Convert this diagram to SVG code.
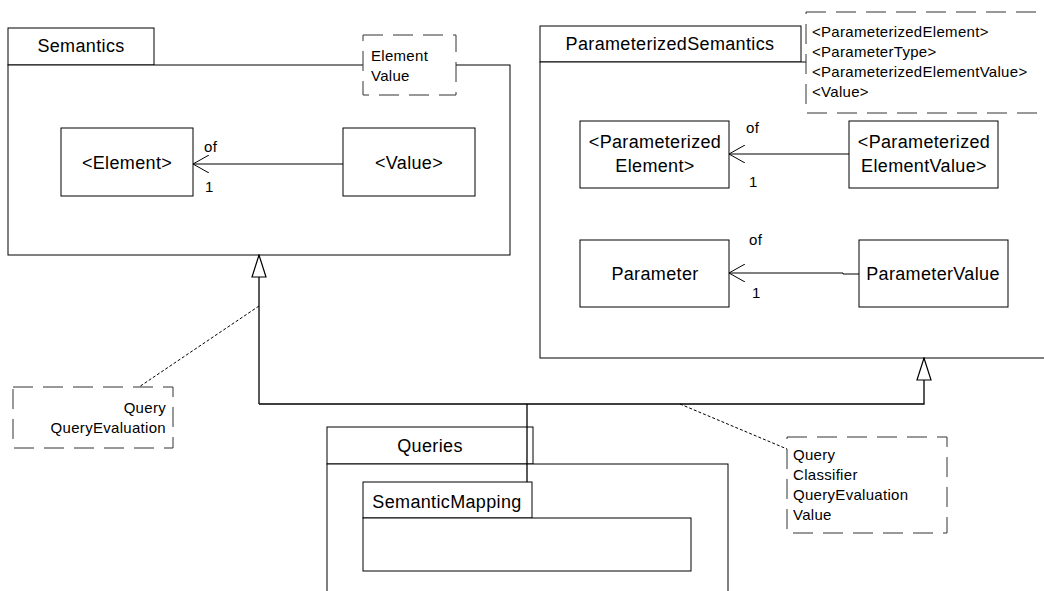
<svg xmlns="http://www.w3.org/2000/svg" width="1044" height="591" viewBox="0 0 1044 591">
<style>
.box{fill:#fff;stroke:#000;stroke-width:1}
.note{fill:#fff;stroke:#333;stroke-width:1;stroke-dasharray:20 10}
.t{font-family:"Liberation Sans",Arial,sans-serif;font-size:18px;letter-spacing:0.35px;fill:#000}
.n{font-family:"Liberation Sans",Arial,sans-serif;font-size:15px;letter-spacing:0.3px;fill:#000}
.c{text-anchor:middle}
.e{text-anchor:end}
.line{fill:none;stroke:#000;stroke-width:1}
.gen{fill:none;stroke:#000;stroke-width:1.3}
.dot{fill:none;stroke:#000;stroke-width:1;stroke-dasharray:3 2}
</style>
<defs>
<marker id="open" markerUnits="userSpaceOnUse" viewBox="0 0 17 18" refX="16" refY="9" markerWidth="17" markerHeight="18" orient="auto">
<path d="M0,0 L16,9 L0,18" fill="none" stroke="#000" stroke-width="1"/>
</marker>
<marker id="tri" markerUnits="userSpaceOnUse" viewBox="-1 -1 24 16" refX="22" refY="7" markerWidth="24" markerHeight="16" orient="auto">
<path d="M0,0 L22,7 L0,14 Z" fill="#fff" stroke="#000" stroke-width="1.2"/>
</marker>
</defs>
<rect width="1044" height="591" fill="#fff"/>

<g id="Semantics">
<rect class="box" x="8" y="28" width="146" height="37"/>
<rect class="box" x="8" y="65" width="502" height="190"/>
<text class="t c" x="81" y="52">Semantics</text>
</g>

<g id="ParameterizedSemantics">
<rect class="box" x="540" y="26" width="261" height="36"/>
<rect class="box" x="540" y="62" width="520" height="296"/>
<text class="t c" x="670" y="50">ParameterizedSemantics</text>
</g>

<g id="Queries">
<rect class="box" x="327" y="427" width="206" height="37"/>
<rect class="box" x="327" y="464" width="401" height="140"/>
<text class="t c" x="430" y="452">Queries</text>
</g>

<g id="SemanticMapping">
<rect class="box" x="363" y="482" width="169" height="36"/>
<rect class="box" x="363" y="518" width="328" height="53"/>
<text class="t c" x="447" y="508">SemanticMapping</text>
</g>

<g id="Element">
<rect class="box" x="61" y="128" width="132" height="68"/>
<text class="t c" x="127" y="169">&lt;Element&gt;</text>
</g>

<g id="Value">
<rect class="box" x="343" y="128" width="132" height="68"/>
<text class="t c" x="409" y="169">&lt;Value&gt;</text>
</g>

<g id="ParameterizedElement">
<rect class="box" x="580" y="121" width="149" height="67"/>
<text class="t c" x="655" y="148">&lt;Parameterized</text>
<text class="t c" x="655" y="172">Element&gt;</text>
</g>

<g id="ParameterizedElementValue">
<rect class="box" x="849" y="121" width="149" height="67"/>
<text class="t c" x="924" y="148">&lt;Parameterized</text>
<text class="t c" x="924" y="172">ElementValue&gt;</text>
</g>

<g id="Parameter">
<rect class="box" x="580" y="240" width="149" height="67"/>
<text class="t c" x="655" y="280">Parameter</text>
</g>

<g id="ParameterValue">
<rect class="box" x="859" y="240" width="149" height="67"/>
<text class="t c" x="933" y="280">ParameterValue</text>
</g>

<g id="note-semantics">
<rect class="note" x="363" y="35" width="93" height="60"/>
<text class="n" x="371" y="61">Element</text>
<text class="n" x="371" y="81">Value</text>
</g>

<g id="note-parameterized">
<rect class="note" x="806" y="12" width="260" height="101"/>
<text class="n" x="812" y="37">&lt;ParameterizedElement&gt;</text>
<text class="n" x="812" y="57">&lt;ParameterType&gt;</text>
<text class="n" x="812" y="77">&lt;ParameterizedElementValue&gt;</text>
<text class="n" x="812" y="97">&lt;Value&gt;</text>
</g>

<g id="note-left">
<rect class="note" x="13" y="387" width="160" height="61"/>
<text class="n e" x="166" y="413">Query</text>
<text class="n e" x="166" y="433">QueryEvaluation</text>
</g>

<g id="note-right">
<rect class="note" x="787" y="437" width="160" height="96"/>
<text class="n" x="793" y="460">Query</text>
<text class="n" x="793" y="480">Classifier</text>
<text class="n" x="793" y="500">QueryEvaluation</text>
<text class="n" x="793" y="520">Value</text>
</g>

<g id="connectors">
<path class="line" d="M343,164 L193,164" marker-end="url(#open)"/>
<text class="n" x="204" y="152">of</text>
<text class="n" x="205" y="192">1</text>
<path class="line" d="M849,154 L729,154" marker-end="url(#open)"/>
<text class="n" x="746" y="133">of</text>
<text class="n" x="749" y="187">1</text>
<path class="line" d="M859,274 L843,274 L843,273 L729,273" marker-end="url(#open)"/>
<text class="n" x="749" y="245">of</text>
<text class="n" x="752" y="298">1</text>
<path class="gen" d="M259,404 L259,255" marker-end="url(#tri)"/>
<path class="gen" d="M259,404 L924,404 L924,358" marker-end="url(#tri)"/>
<path class="gen" d="M527,482 L527,404" stroke-width="2"/>
<path class="dot" d="M259,306 L139,387"/>
<path class="dot" d="M680,404 L787,449"/>
</g>
</svg>
